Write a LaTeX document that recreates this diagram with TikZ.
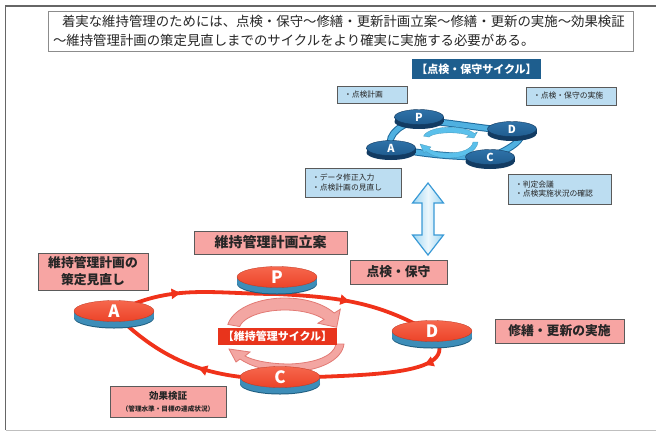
\documentclass[tikz,border=0pt]{standalone}
\usepackage{fontspec}
\newfontfamily\jp{Noto Sans CJK JP}
\usetikzlibrary{arrows.meta,decorations.markings,shapes.geometric}
\definecolor{redline}{HTML}{F0321A}
\definecolor{redtop}{HTML}{EC4328}
\definecolor{redtoplight}{HTML}{F6674D}
\definecolor{redrim}{HTML}{3D8DB8}
\definecolor{redrimdark}{HTML}{1F5E80}
\definecolor{pinkbox}{HTML}{F7A5A3}
\definecolor{boxedge}{HTML}{5A5A5A}
\definecolor{blueboxfill}{HTML}{BCDDF1}
\definecolor{bluetitle}{HTML}{1E5E8E}
\definecolor{bluetop}{HTML}{1F5C8F}
\definecolor{bluetoplight}{HTML}{2E72A8}
\definecolor{bluerim}{HTML}{123B62}
\definecolor{ringlight}{HTML}{4FB0E0}
\definecolor{ringdark}{HTML}{1E6A9C}
\definecolor{pinkarrow}{HTML}{F3A6A2}
\definecolor{pinkedge}{HTML}{E27A74}
\definecolor{cycblue}{HTML}{5BC0EB}
\definecolor{dblfill}{HTML}{9FD6F2}
\definecolor{dbledge}{HTML}{3A9AD6}
\definecolor{titlered}{HTML}{E8341C}
% red disc: name, x, y, letter
\newcommand{\redDisc}[4]{%
  \fill[redrimdark] (#2,#3+7) ellipse (40pt and 10.5pt);
  \fill[redrim] (#2,#3+6) ellipse (40pt and 10.5pt);
  \fill[redrim] (#2-40,#3) rectangle (#2+40,#3+6);
  \node[ellipse, minimum width=80, minimum height=21, inner sep=0,
        top color=redtoplight, bottom color=redtop, draw=redtop!80!black, line width=0.3,
        text=white, font=\jp\bfseries\fontsize{17}{17}\selectfont] (#1) at (#2,#3) {#4};}
% blue disc: name, x, y, letter
\newcommand{\blueDisc}[4]{%
  \fill[bluerim] (#2,#3+4.5) ellipse (24.5pt and 7.5pt);
  \fill[bluerim] (#2-24.5,#3) rectangle (#2+24.5,#3+4.5);
  \node[ellipse, minimum width=49, minimum height=15, inner sep=0,
        top color=bluetoplight, bottom color=bluetop, draw=bluerim, line width=0.4,
        text=white, font=\jp\bfseries\fontsize{11}{11}\selectfont] (#1) at (#2,#3) {#4};}
% circular arrow band: style, cx, cy, rx, ry, start, body end, tip, half width
\newcommand{\cycarrow}[9]{%
  \path[#1] plot[domain=#6:#7,samples=30] ({#2+(#4+#9)*cos(\x)},{#3-(#5+#9)*sin(\x)})
   -- ({#2+(#4+2.2*#9)*cos(#7)},{#3-(#5+2.2*#9)*sin(#7)})
   -- ({#2+#4*cos(#8)},{#3-#5*sin(#8)})
   -- ({#2+(#4-2.2*#9)*cos(#7)},{#3-(#5-2.2*#9)*sin(#7)})
   -- plot[domain=#7:#6,samples=30] ({#2+(#4-#9)*cos(\x)},{#3-(#5-#9)*sin(\x)}) -- cycle;}
\begin{document}
\begin{tikzpicture}[x=1pt,y=-1pt,
  topbox/.style={draw=black!45, line width=1, fill=white, inner sep=0},
  redbox/.style={draw=boxedge, line width=0.9, fill=pinkbox, inner sep=0, align=center, text=black!85},
  bluebox/.style={draw=boxedge, line width=0.9, fill=blueboxfill, inner xsep=7, inner ysep=0,
      text=black!85, font=\jp\fontsize{7.8}{9.5}\selectfont, align=left},
  redseg/.style={draw=redline, line width=3.8, postaction={decorate},
      decoration={markings, mark=at position #1 with {\arrow{Triangle[length=9pt,width=10pt]}}}},
  ringdk/.style={draw=ringdark, line width=7},
  ringlt/.style={draw=ringlight, line width=5},
  pinkcyc/.style={fill=pinkarrow, draw=pinkedge, line width=0.8},
  bluecyc/.style={fill=cycblue, draw=cycblue!80!black, line width=0.3},
]
\useasboundingbox (0,0) rectangle (656,432);
% outer frame
\draw[black!60, line width=1.2] (660,6) -- (5.5,6) -- (5.5,430);
\draw[black!25, line width=1] (5.5,430) -- (660,430);

% intro box
\node[topbox, minimum width=585, minimum height=40, text width=575, align=left,
      font=\jp\fontsize{13.4}{19}\selectfont, text=black!85] (intro) at (340.5,31)
  {\hspace*{9pt}着実な維持管理のためには、点検・保守～修繕・更新計画立案～修繕・更新の実施～効果検証\\～維持管理計画の策定見直しまでのサイクルをより確実に実施する必要がある。};

% ---------- small inspection cycle ----------
\node[fill=bluetitle, text=white, inner sep=0, minimum width=129, minimum height=20,
      font=\jp\bfseries\fontsize{11}{11}\selectfont] (btitle) at (476.5,69) {【点検・保守サイクル】};
\node[bluebox, text width=56, minimum height=17] (b1) at (372,94.5) {・点検計画};
\node[bluebox, text width=76, minimum height=18] (b2) at (571,96) {・点検・保守の実施};
\node[bluebox, text width=82, minimum height=29] (b3) at (353,182.5) {・データ修正入力\\・点検計画の見直し};
\node[bluebox, text width=89, minimum height=30] (b4) at (559.5,189) {・判定会議\\・点検実施状況の確認};

\coordinate (qA) at (391,148);
\coordinate (qP) at (419,120);
\coordinate (qD) at (512,131);
\coordinate (qC) at (490,157);
\foreach \st in {ringdk,ringlt}{
  \draw[\st] (qA) to[out=110,in=190] (qP) to[out=-5,in=175] (qD)
     to[out=-10,in=20,looseness=1.6] (qC) to[out=180,in=-10] (qA);
}
\cycarrow{bluecyc}{450}{138}{24}{8}{170}{25}{0}{2.8}
\path[bluecyc]
  (473,142) .. controls (472,149) and (462,153) .. (448,153)
  .. controls (438,153) and (432,151) .. (429,149) -- (431,147) -- (420,144) -- (424,153) -- (426,151.5)
  .. controls (432,156) and (440,158) .. (448,158)
  .. controls (465,158) and (477,151) .. (478,142) -- cycle;
\blueDisc{sP}{419}{117}{P}
\blueDisc{sD}{512}{129}{D}
\blueDisc{sA}{391}{148}{A}
\blueDisc{sC}{490}{157}{C}

% double arrow
\path[left color=dblfill, right color=dblfill, middle color=white!80!dblfill, draw=dbledge, line width=1.2]
  (428,183) -- (443.5,203) -- (434,203) -- (434,235) -- (443.5,235) -- (428,255)
  -- (412.5,235) -- (422,235) -- (422,203) -- (412.5,203) -- cycle;

% ---------- maintenance cycle ----------
\node[redbox, minimum width=153, minimum height=23, font=\jp\bfseries\fontsize{14}{14}\selectfont] (r1) at (270.5,242.5) {維持管理計画立案};
\node[redbox, minimum width=110, minimum height=37, font=\jp\bfseries\fontsize{12.8}{17}\selectfont] (r2) at (93,271.5) {維持管理計画の\\策定見直し};
\node[redbox, minimum width=97, minimum height=24, font=\jp\bfseries\fontsize{12.8}{13}\selectfont] (r3) at (398.5,272) {点検・保守};
\node[redbox, minimum width=129, minimum height=24, font=\jp\bfseries\fontsize{12.8}{13}\selectfont] (r4) at (559.5,331) {修繕・更新の実施};
\node[redbox, minimum width=116, minimum height=31, font=\jp\bfseries\fontsize{9.5}{12}\selectfont] (r5) at (168,401.5)
  {効果検証\\{\fontsize{6.6}{8}\selectfont （管理水準・目標の達成状況）}};

\coordinate (pA) at (114,313);
\coordinate (pP) at (277,294);
\coordinate (pD) at (432,333);
\coordinate (pC) at (280,379);
\draw[redseg=0.42] (pA) to[out=28,in=180] (pP);
\draw[redseg=0.45] (pP) to[out=-3,in=150] (pD);
\draw[redseg=0.22] (pD) to[out=-50,in=5] (pC);
\draw[redseg=0.45] (pC) to[out=180,in=-45] (pA);

\cycarrow{pinkcyc}{285}{330}{52}{26}{170}{32}{6}{6}
\path[pinkcyc]
  (336,344) .. controls (334,356) and (315,363) .. (290,364)
  .. controls (268,364) and (252,360) .. (245,356)
  -- (250,352) -- (229,349) -- (236,362) -- (240,359)
  .. controls (250,366) and (268,372) .. (290,372)
  .. controls (320,371) and (342,360) .. (344,344) -- cycle;
\node[fill=titlered, text=white, inner sep=0, minimum width=119, minimum height=17,
      font=\jp\bfseries\fontsize{11}{11}\selectfont] (rtitle) at (277.5,336.5) {【維持管理サイクル】};

\redDisc{dP}{277}{277}{P}
\redDisc{dA}{114}{311}{A}
\redDisc{dD}{432}{331}{D}
\redDisc{dC}{280}{377}{C}
\end{tikzpicture}
\end{document}
